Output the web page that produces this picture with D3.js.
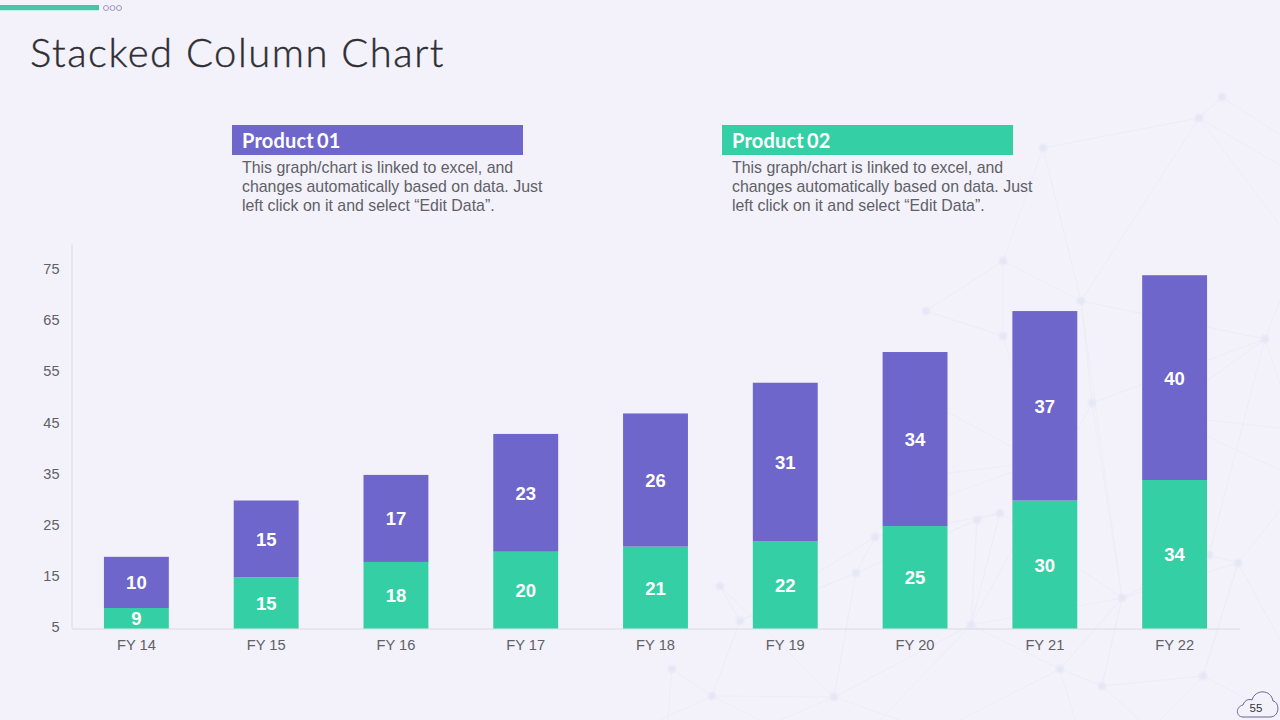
<!DOCTYPE html>
<html>
<head>
<meta charset="utf-8">
<title>Stacked Column Chart</title>
<script src="https://cdn.jsdelivr.net/npm/d3@7"></script>
<style>
    html, body { margin: 0; padding: 0; background: #f3f2fb; }
    svg { display: block; }
    text { font-family: "Liberation Sans", Arial, sans-serif; }
</style>
</head>
<body>
<div id="chart"></div>
<script>
// Chart data
const categories = ['FY 14', 'FY 15', 'FY 16', 'FY 17', 'FY 18', 'FY 19', 'FY 20', 'FY 21', 'FY 22'];
const product02 = [9, 15, 18, 20, 21, 22, 25, 30, 34];
const product01 = [10, 15, 17, 23, 26, 31, 34, 37, 40];
const yTicks = [5, 15, 25, 35, 45, 55, 65, 75];
const blurbLines = [
    'This graph/chart is linked to excel, and',
    'changes automatically based on data. Just',
    'left click on it and select \u201CEdit Data\u201D.'
];

// Faint network picture behind the chart
const netNodes = [
    [1222, 97], [1199, 118], [1043, 148], [1003, 261], [926, 311], [1003, 336], [1081, 301], [1092, 403],
    [1265, 339], [977, 520], [1000, 513], [856, 573], [875, 537], [720, 586], [740, 621], [971, 625],
    [1122, 598], [1238, 563], [1209, 555], [672, 669], [712, 696], [834, 697], [1060, 669], [1102, 686], [1203, 676],
    [1040, 462], [1160, 415]
];
const netEdges = [
    [0, 1], [1, 2], [1, 6], [2, 3], [2, 6], [3, 4], [3, 5], [3, 6], [4, 5], [5, 25], [6, 7], [6, 8],
    [7, 8], [7, 16], [8, 18], [9, 10], [9, 15], [10, 15], [9, 11], [10, 16], [11, 12], [12, 10], [11, 14], [13, 14],
    [14, 20], [14, 11], [11, 21], [12, 14], [15, 16], [15, 22], [15, 21], [16, 17], [16, 22], [17, 18], [17, 24],
    [18, 16], [22, 23], [23, 24], [20, 21], [19, 20], [16, 23], [24, 17], [13, 21], [7, 15], [6, 16], [26, 8]
];
const netEdgesOffPage = [
    [0, 1280, 135], [1, 1280, 165], [1, 1280, 225], [8, 1280, 300], [8, 1280, 385], [17, 1280, 510], [17, 1280, 640],
    [24, 1280, 716], [24, 1160, 720], [23, 1140, 720], [22, 1075, 720], [22, 960, 720], [21, 900, 720], [21, 780, 720],
    [20, 660, 720], [20, 760, 720], [15, 880, 720], [19, 668, 720],
    [25, 940, 408], [25, 940, 474], [25, 940, 498], [26, 1280, 428], [26, 1280, 470]
];

const colors = { product01: '#6e66cb', product02: '#35cfa5', text: '#606065', axis: '#d9d9e6', net: '#edecf7' };

const width = 1280, height = 720;
const svg = d3.select('#chart').append('svg')
    .attr('width', width)
    .attr('height', height)
    .attr('viewBox', `0 0 ${width} ${height}`);

svg.append('rect').attr('width', width).attr('height', height).attr('fill', '#f3f2fb');

svg.append('filter').attr('id', 'soft')
    .append('feGaussianBlur').attr('stdDeviation', 1);

// Background network
const net = svg.append('g');
netEdges.forEach(e => {
    net.append('line')
        .attr('x1', netNodes[e[0]][0]).attr('y1', netNodes[e[0]][1])
        .attr('x2', netNodes[e[1]][0]).attr('y2', netNodes[e[1]][1])
        .attr('stroke', colors.net);
});
netEdgesOffPage.forEach(e => {
    net.append('line')
        .attr('x1', netNodes[e[0]][0]).attr('y1', netNodes[e[0]][1])
        .attr('x2', e[1]).attr('y2', e[2])
        .attr('stroke', colors.net);
});
net.selectAll('circle').data(netNodes).join('circle')
    .attr('cx', d => d[0]).attr('cy', d => d[1]).attr('r', 4)
    .attr('fill', '#e7e6f4')
    .attr('filter', 'url(#soft)');

// Top decoration
svg.append('rect').attr('x', 0).attr('y', 5).attr('width', 99).attr('height', 5).attr('fill', '#4cc3a6');
svg.append('rect').attr('x', 0).attr('y', 10).attr('width', 99).attr('height', 1).attr('fill', '#b9f5e6');
[106, 112.5, 119].forEach(cx => {
    svg.append('circle').attr('cx', cx).attr('cy', 8).attr('r', 2.5)
        .attr('fill', 'none').attr('stroke', '#9a96bd').attr('stroke-width', 1);
});

svg.append('text')
    .attr('x', 30).attr('y', 67)
    .attr('fill', '#2e2e33')
    .attr('stroke', '#2e2e33')
    .attr('stroke-width', 0.4)
    .style('font-family', 'Lato, sans-serif')
    .style('font-weight', 300)
    .style('font-size', '40px')
    .style('letter-spacing', '1.5px')
    .text('Stacked Column Chart');

// Product headers
[{ x: 232, name: 'Product 01', fill: colors.product01 }, { x: 722, name: 'Product 02', fill: colors.product02 }].forEach(p => {
    svg.append('rect').attr('x', p.x).attr('y', 125).attr('width', 291).attr('height', 30).attr('fill', p.fill);
    svg.append('text')
        .attr('x', p.x + 10).attr('y', 147.5)
        .attr('fill', '#fff')
        .style('font-family', 'Lato, sans-serif')
        .style('font-weight', 700)
        .style('font-size', '20px')
        .style('letter-spacing', '0.2px')
        .style('word-spacing', '-2px')
        .text(p.name);
    blurbLines.forEach((line, i) => {
        svg.append('text')
            .attr('x', p.x + 10).attr('y', 173 + i * 19)
            .attr('fill', colors.text)
            .style('font-size', '15.9px')
            .text(line);
    });
});

// Scales
const x = d3.scaleBand().domain(categories).range([71.5, 1239.5]).paddingInner(0.5).paddingOuter(0.25);
const y = d3.scaleLinear().domain([5, 80]).range([628.5, 244.5]).clamp(true);

svg.append('g')
    .attr('transform', 'translate(71.5,-0.5)')
    .call(d3.axisLeft(y).tickValues(yTicks).tickSize(0).tickPadding(12))
    .call(g => g.select('.domain').attr('stroke', colors.axis))
    .call(g => g.selectAll('text').attr('dy', '0.27em').attr('fill', colors.text).style('font-size', '14.5px').style('font-family', '"Liberation Sans", Arial, sans-serif'));

svg.append('g')
    .attr('transform', 'translate(0,628.5)')
    .call(d3.axisBottom(x).tickSize(0).tickPadding(11))
    .call(g => g.select('.domain').attr('stroke', colors.axis))
    .call(g => g.selectAll('text').attr('fill', colors.text).style('font-size', '14.7px').style('font-family', '"Liberation Sans", Arial, sans-serif'));

// Stacked bars, Product 02 at the bottom
const rows = categories.map((c, i) => ({ category: c, product02: product02[i], product01: product01[i] }));
const stacked = d3.stack().keys(['product02', 'product01'])(rows);

stacked.forEach(series => {
    const g = svg.append('g');
    g.selectAll('rect').data(series).join('rect')
        .attr('x', d => x(d.data.category))
        .attr('y', d => y(d[1]))
        .attr('width', x.bandwidth())
        .attr('height', d => y(d[0]) - y(d[1]))
        .attr('fill', colors[series.key]);
    g.selectAll('text').data(series).join('text')
        .attr('x', d => x(d.data.category) + x.bandwidth() / 2)
        .attr('y', d => (y(d[0]) + y(d[1])) / 2 + 7)
        .attr('text-anchor', 'middle')
        .attr('fill', '#fff')
        .style('font-weight', 700)
        .style('font-size', '18.5px')
        .text(d => d.data[series.key]);
});

// Page number cloud
svg.append('path')
    .attr('d', 'M1243 717 C1236 717 1235 707 1243 705 C1245 699 1250 699 1252 700 C1255 689 1271 689 1273 701 C1280 702 1280 717 1270 717 Z')
    .attr('fill', '#f3f2fb')
    .attr('stroke', '#6a6690')
    .attr('stroke-width', 1);
svg.append('text')
    .attr('x', 1256).attr('y', 712)
    .attr('text-anchor', 'middle')
    .attr('fill', '#333')
    .style('font-size', '11.5px')
    .text('55');
</script>
</body>
</html>
